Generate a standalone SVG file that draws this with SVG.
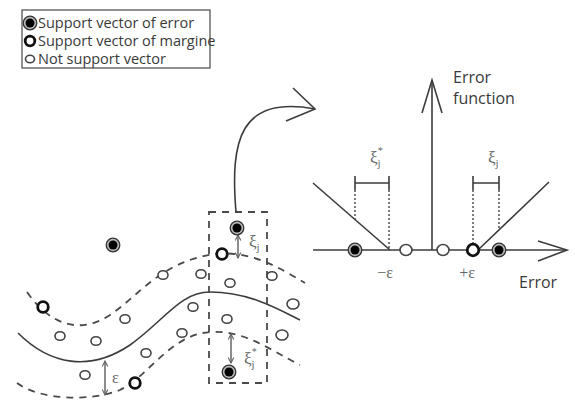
<svg xmlns="http://www.w3.org/2000/svg" width="575" height="408" viewBox="0 0 575 408">
<style>
.t{font-family:"Open Sans","Noto Sans","Liberation Sans",sans-serif;fill:#3a3a3a}
.s{font-family:"Liberation Serif","DejaVu Serif",serif;fill:#666}
.ln{stroke:#3c3c3c;stroke-width:1.6;fill:none}
.dash{stroke:#4a4a4a;stroke-width:1.8;fill:none;stroke-dasharray:7 6}
.dot{stroke:#444;stroke-width:1.4;fill:none;stroke-dasharray:2 2}
.op{fill:#fff;stroke:#444;stroke-width:1.6}
.th{fill:#fff;stroke:#111;stroke-width:2.8}
.fo{fill:#bbb;stroke:#333;stroke-width:1.3}
.fi{fill:#000}
.dbl{stroke:#666;stroke-width:1.5;fill:none;marker-start:url(#ah);marker-end:url(#ah)}
</style>
<defs>
<marker id="ah" viewBox="0 0 10 10" refX="9" refY="5" markerWidth="7" markerHeight="7" markerUnits="userSpaceOnUse" orient="auto-start-reverse">
<path d="M1,1 L9,5 L1,9" fill="none" stroke="#666" stroke-width="1.6"/>
</marker>
<g id="filled"><circle r="6.8" class="fo"/><circle r="4.5" class="fi"/></g>
</defs>
<rect width="575" height="408" fill="#fff"/>

<g id="legend">
<rect x="22" y="10" width="188" height="58" fill="#fff" stroke="#555" stroke-width="1.3"/>
<use href="#filled" x="30" y="23"/>
<circle cx="30" cy="41" r="4.8" class="th"/>
<ellipse cx="30" cy="59" rx="4.5" ry="3.8" class="op"/>
<text class="t" x="38" y="28" font-size="14.5">Support vector of error</text>
<text class="t" x="38" y="46" font-size="14.5">Support vector of margine</text>
<text class="t" x="38" y="64" font-size="14.5">Not support vector</text>
</g>

<g id="regression">
<path class="dash" d="M27,292 C50,325 80,335 110,315 C140,295 160,262 215,254 C250,250 280,268 305,283"/>
<path class="ln" d="M18,333 C50,365 90,372 130,345 C165,320 180,292 210,292 C250,292 280,310 300,320"/>
<path class="dash" d="M17,383 C40,400 90,402 120,390 C150,375 170,335 210,332 C245,330 270,350 300,365"/>
<rect x="209" y="212" width="58" height="171" class="dash" stroke-dasharray="6 5"/>
<line class="dbl" x1="105" y1="361" x2="105" y2="395"/>
<text class="s" x="112" y="383" font-size="16">ε</text>
<line class="dbl" x1="238" y1="235" x2="238" y2="258"/>
<text class="s" x="249" y="247" font-size="17">ξ<tspan font-size="11" dy="4">j</tspan></text>
<line class="dbl" x1="231" y1="334" x2="231" y2="363"/>
<text class="s" x="244" y="364" font-size="17">ξ<tspan font-size="11" dy="4">j</tspan><tspan font-size="10" dx="-3" dy="-13">*</tspan></text>
</g>

<g id="points">
<use href="#filled" x="113" y="245"/>
<use href="#filled" x="237" y="228"/>
<use href="#filled" x="229" y="372"/>
<circle cx="43" cy="307" r="5.3" class="th"/>
<circle cx="135" cy="383" r="5.3" class="th"/>
<circle cx="222" cy="254" r="5.3" class="th"/>
<ellipse cx="163" cy="275" rx="5" ry="4.3" class="op"/>
<ellipse cx="201" cy="274" rx="5" ry="4.3" class="op"/>
<ellipse cx="230" cy="283" rx="5" ry="4.3" class="op"/>
<ellipse cx="272" cy="276" rx="5" ry="4.3" class="op"/>
<ellipse cx="125" cy="319" rx="5" ry="4.3" class="op"/>
<ellipse cx="193" cy="307" rx="5" ry="4.3" class="op"/>
<ellipse cx="293" cy="304" rx="6" ry="5" class="op"/>
<ellipse cx="60" cy="336" rx="5" ry="4.3" class="op"/>
<ellipse cx="96" cy="341" rx="5" ry="4.3" class="op"/>
<ellipse cx="182" cy="333" rx="5" ry="4.3" class="op"/>
<ellipse cx="227" cy="319" rx="5" ry="4.3" class="op"/>
<ellipse cx="146" cy="353" rx="5" ry="4.3" class="op"/>
<ellipse cx="282" cy="335" rx="6" ry="5" class="op"/>
<ellipse cx="85" cy="375" rx="5" ry="4.3" class="op"/>
</g>

<g id="connectors">
<path class="ln" d="M236,212 C230,140 240,95 315,109"/>
<path class="ln" d="M293,88 L315,109 L286,121"/>
</g>

<g id="error-function">
<line class="ln" x1="432" y1="250" x2="432" y2="80"/>
<path class="ln" d="M422,113 L432,80 L442,113"/>
<line class="ln" x1="313" y1="250" x2="567" y2="250"/>
<path class="ln" d="M538,241 L567,250 L538,261"/>
<text class="t" x="453" y="83" font-size="16">Error</text>
<text class="t" x="453" y="104" font-size="16">function</text>
<text class="t" x="519" y="288" font-size="16">Error</text>
<path class="ln" d="M313,183 L390,250"/>
<path class="ln" d="M478,250 L549,182"/>
<path class="ln" d="M355,183 L389,183 M355,176 L355,190 M389,176 L389,190"/>
<path class="ln" d="M473,183 L499,183 M473,176 L473,190 M499,176 L499,190"/>
<path class="dot" d="M355,190 L355,219 M389,190 L389,249 M473,190 L473,244 M499,190 L499,230"/>
<text class="s" x="370" y="163" font-size="17">ξ<tspan font-size="11" dy="4">j</tspan><tspan font-size="10" dx="-3" dy="-13">*</tspan></text>
<text class="s" x="488" y="163" font-size="17">ξ<tspan font-size="11" dy="4">j</tspan></text>
<text class="s" x="385" y="278" font-size="16" text-anchor="middle">−ε</text>
<text class="s" x="467" y="278" font-size="16" text-anchor="middle">+ε</text>
<use href="#filled" x="355" y="250"/>
<ellipse cx="406" cy="250" rx="6" ry="5.5" class="op"/>
<ellipse cx="443" cy="250" rx="6" ry="5.5" class="op"/>
<circle cx="473" cy="250" r="5.8" class="th"/>
<use href="#filled" x="499" y="250"/>
</g>
</svg>
